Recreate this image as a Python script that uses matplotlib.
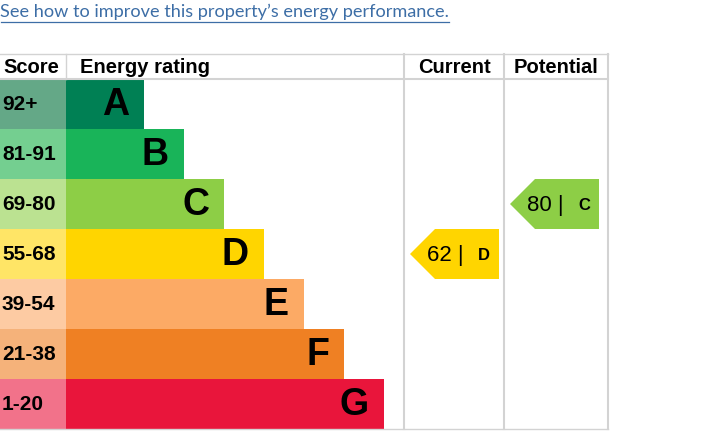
import matplotlib
matplotlib.use("Agg")
import matplotlib.pyplot as plt
from matplotlib.patches import Polygon, Rectangle

# --- data ---------------------------------------------------------------
bands = ["A", "B", "C", "D", "E", "F", "G"]
score_ranges = ["92+", "81-91", "69-80", "55-68", "39-54", "21-38", "1-20"]
band_lows = [92, 81, 69, 55, 39, 21, 1]
bar_colors = ["#008054", "#19b459", "#8dce46", "#ffd500", "#fcaa65", "#ef8023", "#e9153b"]
score_colors = ["#64a887", "#74cf90", "#bbe291", "#ffe566", "#fdcba3", "#f5b27a", "#f2728a"]
current_score = 62
potential_score = 80
headers = ["Score", "Energy rating", "Current", "Potential"]
link_text = "See how to improve this property\u2019s energy performance."

# --- layout (pixels) ----------------------------------------------------
W, H = 723, 437
TABLE_TOP, HEAD_BOT, ROW_H = 54, 79, 50
COL_X = [0, 66, 404, 504, 608]
BAR_START, BAR_FIRST_END, BAR_STEP = 66, 144, 40
GRID = "#d3d3d3"
FONT = "Liberation Sans"


def band_index(score):
    for i, low in enumerate(band_lows):
        if score >= low:
            return i
    return len(band_lows) - 1


fig = plt.figure(figsize=(W / 100, H / 100), dpi=100)
ax = fig.add_axes([0, 0, 1, 1])
ax.set_xlim(0, W)
ax.set_ylim(H, 0)
ax.axis("off")

# link at the top, sized to its width in the reference
link = ax.text(0.5, 12, link_text, fontsize=13, color="#3d6ea6", family="Lato",
               va="center", ha="left")
fig.canvas.draw()
bb = link.get_window_extent()
link.set_fontsize(13 * 448 / bb.width)
fig.canvas.draw()
bb = link.get_window_extent().transformed(ax.transData.inverted())
ax.plot([bb.x0, bb.x1], [21.5, 21.5], color="#3d6ea6", lw=0.9)

bottom = HEAD_BOT + ROW_H * len(bands)

# grid lines
ax.plot([0, COL_X[-1]], [TABLE_TOP, TABLE_TOP], color=GRID, lw=1)
ax.plot([0, COL_X[-1]], [HEAD_BOT, HEAD_BOT], color=GRID, lw=1.5)
ax.plot([0, COL_X[-1]], [bottom, bottom], color=GRID, lw=1)
ax.plot([COL_X[1], COL_X[1]], [TABLE_TOP, HEAD_BOT], color=GRID, lw=1)
for x in COL_X[2:]:
    ax.plot([x, x], [TABLE_TOP, bottom], color=GRID, lw=1.5)

# header text
hy = (TABLE_TOP + HEAD_BOT) / 2 + 1
hfs = 14.5
ax.text(3, hy, headers[0], fontsize=hfs, fontweight="bold", family=FONT, va="center")
ax.text(80, hy, headers[1], fontsize=hfs, fontweight="bold", family=FONT, va="center")
ax.text((COL_X[2] + COL_X[3]) / 2, hy, headers[2], fontsize=hfs, fontweight="bold",
        family=FONT, va="center", ha="center")
ax.text((COL_X[3] + COL_X[4]) / 2, hy, headers[3], fontsize=hfs, fontweight="bold",
        family=FONT, va="center", ha="center")

# rating rows
for i, (band, rng) in enumerate(zip(bands, score_ranges)):
    top = HEAD_BOT + ROW_H * i
    mid = top + ROW_H / 2
    end = BAR_FIRST_END + BAR_STEP * i
    ax.add_patch(Rectangle((0, top), COL_X[1], ROW_H, color=score_colors[i], lw=0))
    ax.add_patch(Rectangle((BAR_START, top), end - BAR_START, ROW_H, color=bar_colors[i], lw=0))
    ax.text(2, mid, rng, fontsize=15, fontweight="bold", family=FONT, va="center")
    ax.text(end - 15, mid + 1, band, fontsize=27, fontweight="bold", family=FONT,
            va="center", ha="right")


def arrow(col_left, score):
    i = band_index(score)
    top = HEAD_BOT + ROW_H * i
    bot = top + ROW_H
    mid = (top + bot) / 2
    tip = col_left + 6
    right = tip + 89
    pts = [(tip, mid), (tip + 25, top), (right, top), (right, bot), (tip + 25, bot)]
    ax.add_patch(Polygon(pts, closed=True, color=bar_colors[i], lw=0))
    ax.text(tip + 17, mid + 1, f"{score} |", fontsize=16, family=FONT, va="center")
    ax.text(right - 15, mid + 1, bands[i], fontsize=12, fontweight="bold", family=FONT,
            va="center", ha="center")


arrow(COL_X[2], current_score)
arrow(COL_X[3], potential_score)

fig.savefig("out.png", dpi=100)
